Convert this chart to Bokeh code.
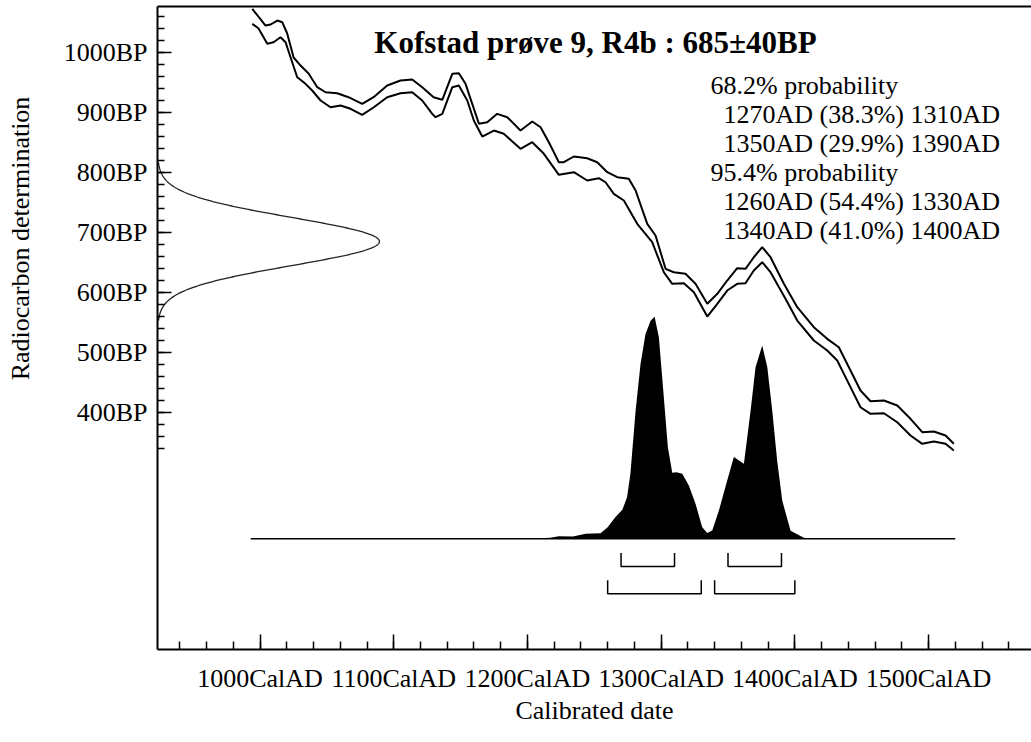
import numpy as np
from math import pi
from bokeh.plotting import figure
from bokeh.models import Range1d, FixedTicker, LinearAxis, Label
from bokeh.embed import file_html
from bokeh.resources import INLINE

# ---------------- data ----------------
title_text = "Kofstad prøve 9, R4b : 685±40BP"
meas_bp = 685
meas_err = 40

cal_upper_year = [994.2, 999.1, 1004.1, 1007.9, 1012.9, 1016.6, 1020.3, 1025.1, 1030.3, 1036.3,
                  1042.8, 1049.0, 1057.7, 1066.2, 1076.4, 1084.9, 1095.1, 1105.1, 1113.8, 1121.3,
                  1129.8, 1136.3, 1143.8, 1148.7, 1153.7, 1158.7, 1163.7, 1169.9, 1177.4, 1184.9,
                  1194.8, 1203.6, 1209.8, 1216.0, 1223.5, 1227.2, 1234.7, 1244.7, 1252.2, 1259.7,
                  1267.2, 1275.8, 1280.9, 1289.6, 1295.8, 1303.3, 1309.5, 1318.2, 1325.7, 1334.5,
                  1342.0, 1349.4, 1356.9, 1363.1, 1369.3, 1375.6, 1381.8, 1391.8, 1401.8, 1414.2,
                  1424.2, 1432.9, 1440.4, 1449.1, 1456.6, 1466.6, 1476.6, 1486.5, 1495.3, 1504.0,
                  1512.7, 1518.9]
cal_upper_bp = [1072.8, 1059, 1045, 1046.7, 1053.3, 1050.5, 1031.7, 991.7, 978.3, 965,
                942.2, 933.8, 932.2, 925.5, 914.5, 925.5, 945, 953.3, 955, 942.2,
                925.5, 921.2, 964.5, 965.5, 947.8, 914.5, 881.2, 883.8, 897.8, 892.2,
                870, 885, 875.5, 850.5, 817.2, 817.2, 826.7, 823.8, 817.2, 800.5,
                792.2, 789.5, 770, 714.5, 695, 639.5, 633.8, 631.2, 614.5, 581.2,
                597.8, 620, 640.5, 639.5, 658.8, 675.5, 658.8, 614.5, 575.5, 542.2,
                522.8, 508.8, 475.5, 436.7, 418.8, 420, 411.7, 389.5, 367.2, 368.3,
                361.7, 347.8]

cal_lower_year = [994.2, 998.9, 1005.4, 1010.1, 1015.3, 1019.1, 1022.8, 1027.8, 1034.0, 1039.0,
                  1045.3, 1052.7, 1060.2, 1067.7, 1076.4, 1085.1, 1095.1, 1105.1, 1113.8, 1121.3,
                  1128.8, 1131.3, 1136.3, 1143.8, 1148.7, 1155.0, 1159.9, 1166.2, 1174.9, 1182.3,
                  1194.8, 1203.6, 1212.3, 1223.5, 1234.7, 1244.7, 1253.4, 1258.4, 1264.6, 1272.1,
                  1282.1, 1293.3, 1302.0, 1308.3, 1317.0, 1324.5, 1334.5, 1342.0, 1349.4, 1356.9,
                  1363.1, 1369.3, 1375.6, 1381.8, 1393.0, 1401.8, 1414.2, 1424.2, 1431.7, 1440.4,
                  1449.1, 1456.6, 1466.6, 1476.6, 1486.5, 1495.3, 1504.0, 1512.7, 1518.9]
cal_lower_bp = [1047.8, 1040, 1014.5, 1017.2, 1025.5, 1017.2, 992.2, 958.8, 947.8, 936.7,
                920, 908.8, 911.7, 906.2, 896.2, 908.8, 925.5, 932.2, 933.8, 920,
                897.8, 892.2, 897.8, 942.2, 945, 920, 886.7, 860, 870, 864.5,
                839.5, 850.5, 831.2, 796.2, 800.5, 786.7, 790.5, 783.8, 764.5, 753.3,
                714.5, 683.8, 633.8, 614.5, 615.5, 600.5, 560, 581.2, 603.3, 614.5,
                615.5, 636.7, 650.5, 633.8, 589.5, 553.3, 520, 503.3, 486.7, 447.8,
                408.8, 397.8, 398.8, 383.8, 361.7, 347.8, 351.7, 347.8, 336.7]

# calibrated probability distribution (relative, peak = 100)
dist_year = [1200, 1217, 1223.5, 1234, 1243.5, 1254.7, 1260, 1266, 1271, 1274.5,
             1277, 1280.9, 1284.6, 1288.3, 1292.1, 1295.1, 1298.3, 1302, 1305, 1308.3,
             1311.5, 1315.8, 1320.7, 1325.7, 1330.7, 1334.5, 1338.2, 1343.2, 1349.4, 1354.4,
             1361.9, 1366.9, 1370.6, 1375.6, 1379.4, 1383.1, 1386.8, 1390.6, 1396.8, 1406.7,
             1414]
dist_prob = [0, 0.5, 1.2, 1.0, 2.3, 2.5, 5.2, 9.9, 13.1, 18.7,
             29.3, 57.7, 78.8, 92.3, 98.2, 100, 90.8, 63.8, 41.3, 29.7,
             30.0, 29.3, 24.0, 15.8, 5.2, 2.6, 3.7, 12.7, 26.3, 36.8,
             33.8, 57.7, 77.3, 87.1, 77.3, 57.7, 35.1, 17.1, 3.6, 0.5,
             0]
calib_start, calib_end = 993, 1520

range68 = [(1270, 1310), (1350, 1390)]
range95 = [(1260, 1330), (1340, 1400)]

prob_lines = ["68.2% probability",
              "1270AD (38.3%) 1310AD",
              "1350AD (29.9%) 1390AD",
              "95.4% probability",
              "1260AD (54.4%) 1330AD",
              "1340AD (41.0%) 1400AD"]

x_major = [1000, 1100, 1200, 1300, 1400, 1500]
x_labels = ["1000CalAD", "1100CalAD", "1200CalAD", "1300CalAD", "1400CalAD", "1500CalAD"]
y_major = [400, 500, 600, 700, 800, 900, 1000]
y_labels = ["400BP", "500BP", "600BP", "700BP", "800BP", "900BP", "1000BP"]
x_label = "Calibrated date"
y_label = "Radiocarbon determination"

# ---------------- layout / style ----------------
FONT = "Liberation Serif"
W, H = 1031, 740
FRAME_L, FRAME_T, FRAME_B = 157, 6, 649   # page pixel position of the frame
X0, X1 = 923.3, 1577.0
Y0, Y1 = 5.0, 1076.7
DIST_BASE = 189.5                  # baseline of calibrated distribution (y units)
DIST_HEIGHT = 370.0                # height of the peak (y units)
MEAS_AMP = 166.0                   # width of measurement curve (x units)
BR68, BR95, BR_TICK = 143.3, 97.8, 22.5

p = figure(width=W, height=H, x_range=Range1d(X0, X1), y_range=Range1d(Y0, Y1),
           output_backend="svg", toolbar_location=None,
           min_border_left=FRAME_L, min_border_right=0, min_border_top=FRAME_T,
           min_border_bottom=H - FRAME_B)
p.outline_line_color = None
p.xgrid.visible = False
p.ygrid.visible = False
p.background_fill_color = "white"
p.border_fill_color = "white"

xa = p.xaxis[0]
xa.ticker = FixedTicker(ticks=x_major, minor_ticks=list(range(940, 1561, 20)))
xa.major_label_overrides = dict(zip(x_major, x_labels))
xa.major_tick_in, xa.major_tick_out = 15, 0
xa.minor_tick_in, xa.minor_tick_out = 8, 0
xa.major_tick_line_width = 1.5
xa.minor_tick_line_width = 1.5
xa.axis_line_width = 2
xa.major_label_text_font = FONT
xa.major_label_text_font_size = "26px"
xa.major_label_text_color = "black"
xa.major_label_standoff = 14
xa.axis_label = x_label
xa.axis_label_text_font = FONT
xa.axis_label_text_font_size = "26px"
xa.axis_label_text_font_style = "normal"
xa.axis_label_text_color = "black"
xa.axis_label_standoff = 0

ya = p.yaxis[0]
ya.ticker = FixedTicker(ticks=y_major, minor_ticks=list(range(340, 1061, 20)))
ya.major_label_overrides = dict(zip(y_major, y_labels))
ya.major_tick_in, ya.major_tick_out = 14, 0
ya.minor_tick_in, ya.minor_tick_out = 7, 0
ya.major_tick_line_width = 1.5
ya.minor_tick_line_width = 1.5
ya.axis_line_width = 2
ya.major_label_text_font = FONT
ya.major_label_text_font_size = "26px"
ya.major_label_text_color = "black"
ya.major_label_standoff = 10

top = LinearAxis(ticker=FixedTicker(ticks=[]), major_tick_in=0, major_tick_out=0,
                 minor_tick_in=0, minor_tick_out=0, major_label_text_font_size="0px",
                 axis_line_width=2)
p.add_layout(top, "above")

# calibration curve
p.line(cal_upper_year, cal_upper_bp, line_color="black", line_width=2)
p.line(cal_lower_year, cal_lower_bp, line_color="black", line_width=2)

# measurement distribution on the y axis
bp = np.linspace(meas_bp - 3.3 * meas_err, meas_bp + 3.3 * meas_err, 300)
gx = X0 + MEAS_AMP * np.exp(-0.5 * ((bp - meas_bp) / meas_err) ** 2)
p.line(gx, bp, line_color="#222222", line_width=1.3)

# calibrated distribution
dy = np.array(dist_prob) / 100.0 * DIST_HEIGHT + DIST_BASE
p.varea(x=dist_year, y1=[DIST_BASE] * len(dist_year), y2=dy, fill_color="black")
p.line([calib_start, calib_end], [DIST_BASE, DIST_BASE], line_color="black", line_width=1.6)

# range brackets
for rng, lvl in ((range68, BR68), (range95, BR95)):
    xs = [[a, a, b, b] for a, b in rng]
    ys = [[lvl + BR_TICK, lvl, lvl, lvl + BR_TICK] for _ in rng]
    p.multi_line(xs, ys, line_color="black", line_width=1.5)


def lab(text, px, py, size, style="normal", align="left", angle=0.0):
    return Label(x=X0, y=Y1, x_offset=px - FRAME_L, y_offset=FRAME_T - py, text=text,
                 text_font=FONT, text_font_size=size, text_font_style=style,
                 text_align=align, text_baseline="middle", text_color="black", angle=angle)


p.add_layout(lab(title_text, 595, 42, "31px", style="bold", align="center"))
rows = [85, 114, 143, 172, 201, 230]
for txt, py in zip(prob_lines, rows):
    px = 710 if "probability" in txt else 723
    p.add_layout(lab(txt, px, py, "26px"))

# rotated y-axis title placed in the left side panel (outside the frame clip)
p.add_layout(lab(y_label, 20, 238, "26px", align="center", angle=pi / 2), "left")

open("out.html", "w").write(file_html(p, INLINE))
